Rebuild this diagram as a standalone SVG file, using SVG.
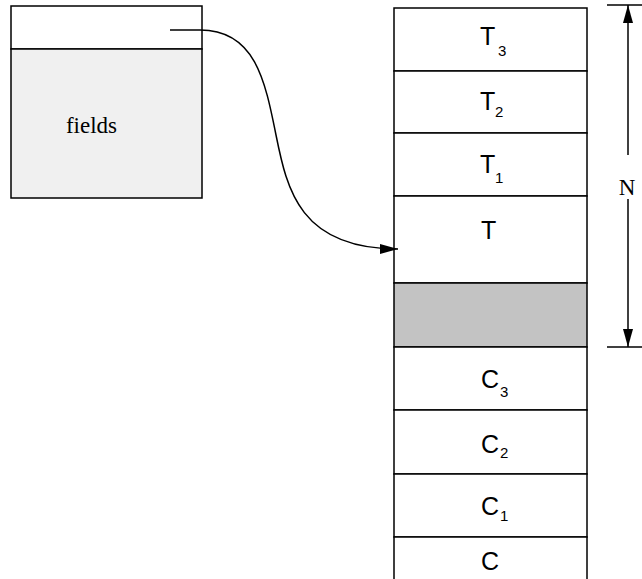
<svg xmlns="http://www.w3.org/2000/svg" width="642" height="579" viewBox="0 0 642 579">
<style>
.ln{stroke:#000;stroke-width:1.5;fill:none}
.box{stroke:#000;stroke-width:1.5}
.lbl{font-family:"Liberation Sans",Arial,sans-serif;font-size:25px;fill:#000}
.sub{font-family:"Liberation Sans",Arial,sans-serif;font-size:15px;fill:#000}
.ser{font-family:"Liberation Serif","Times New Roman",serif;font-size:23px;fill:#000}
</style>
<defs>
<marker id="ah" markerUnits="userSpaceOnUse" markerWidth="20" markerHeight="12" refX="18" refY="5" orient="auto">
<path d="M0,0 L18,5 L0,10 z" fill="#000"/>
</marker>
</defs>
<rect width="642" height="579" fill="#fff"/>
<g id="record">
<rect class="box" x="11" y="6" width="191" height="43" fill="#fff"/>
<rect class="box" x="11" y="49" width="191" height="149" fill="#f0f0f0"/>
<text class="ser" x="91.5" y="133" text-anchor="middle">fields</text>
</g>
<g id="stack">
<rect class="box" x="394" y="8" width="193" height="63" fill="#fff"/>
<rect class="box" x="394" y="71" width="193" height="62" fill="#fff"/>
<rect class="box" x="394" y="133" width="193" height="63" fill="#fff"/>
<rect class="box" x="394" y="196" width="193" height="87" fill="#fff"/>
<rect class="box" x="394" y="283" width="193" height="64" fill="#c3c3c3"/>
<rect class="box" x="394" y="347" width="193" height="63" fill="#fff"/>
<rect class="box" x="394" y="410" width="193" height="64" fill="#fff"/>
<rect class="box" x="394" y="474" width="193" height="63" fill="#fff"/>
<rect class="box" x="394" y="537" width="193" height="63" fill="#fff"/>
<text class="lbl" x="480" y="45">T</text><text class="sub" x="498" y="56">3</text>
<text class="lbl" x="480" y="110">T</text><text class="sub" x="495" y="117">2</text>
<text class="lbl" x="480" y="173">T</text><text class="sub" x="495" y="183">1</text>
<text class="lbl" x="481" y="239">T</text>
<text class="lbl" x="481" y="388">C</text><text class="sub" x="500" y="397">3</text>
<text class="lbl" x="481" y="453">C</text><text class="sub" x="500" y="458">2</text>
<text class="lbl" x="481" y="515">C</text><text class="sub" x="500" y="521">1</text>
<text class="lbl" x="481" y="570">C</text>
</g>
<g id="dimension">
<line class="ln" x1="607" y1="5" x2="642" y2="5"/>
<line class="ln" x1="607" y1="347" x2="642" y2="347"/>
<line class="ln" x1="628" y1="155" x2="628" y2="5" marker-end="url(#ah)"/>
<line class="ln" x1="628" y1="199" x2="628" y2="347" marker-end="url(#ah)"/>
<text class="ser" x="627" y="195" text-anchor="middle">N</text>
</g>
<g id="connectors">
<path class="ln" d="M170,30 L200,30 C255,30 265,80 276,135 C287,190 300,249 398,249" marker-end="url(#ah)"/>
</g>
</svg>
